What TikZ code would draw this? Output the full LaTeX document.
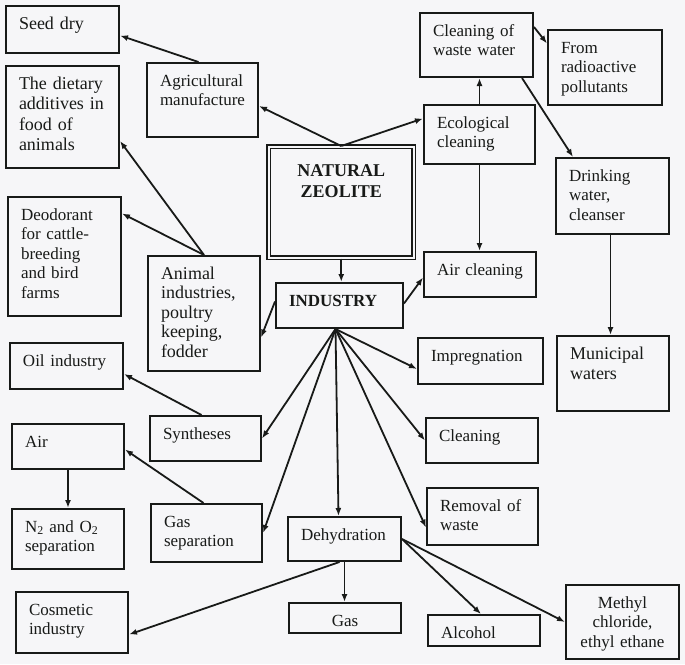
\documentclass[tikz,border=0pt]{standalone}
\usepackage{fontspec}
\setmainfont{Liberation Serif}
\usetikzlibrary{arrows.meta}
\definecolor{ink}{RGB}{24,26,24}
\definecolor{paper}{RGB}{246,246,248}

\begin{document}
\begin{tikzpicture}[x=1pt, y=-1pt,
    blk/.style={draw=ink, line width=2pt, anchor=north west, align=left,
        inner xsep=13pt, inner ysep=0pt, text height=23pt, text=ink,
        font=\fontsize{17}{19.5}\selectfont},
    big/.style={font=\fontsize{18}{20.5}\selectfont},
    arr/.style={draw=ink, line width=1.8pt, -{Latex[length=8pt,width=6pt]}}]
    \fill[paper] (0,0) rectangle (685,664);

    \node[blk, big, text width=87pt, text depth=24pt] (seed) at (5,5) {Seed dry};
    \node[blk, big, text width=87pt, text depth=79pt] (diet) at (5,65) {The dietary\\additives in\\food of\\animals};
    \node[blk, text width=87pt, text depth=96pt] (deo) at (7,196) {Deodorant\\for cattle-\\breeding\\and bird\\farms};
    \node[blk, text width=85pt, text depth=51pt] (agri) at (146,62) {Agricultural\\manufacture};
    \node[blk, text width=86pt, text depth=92pt, font=\fontsize{18}{19.5}\selectfont] (anim) at (147,255) {Animal\\industries,\\poultry\\keeping,\\fodder};

    \node[blk, double=paper, double distance=1.6pt, line width=1.5pt, align=center,
        text width=119pt, text height=30pt, text depth=81pt,
        font=\bfseries\fontsize{18}{21}\selectfont] (nz) at (268,146) {NATURAL\\ZEOLITE};
    \node[blk, text width=101pt, text depth=22pt, font=\bfseries\fontsize{17}{19.5}\selectfont] (ind) at (275,282) {INDUSTRY};

    \node[blk, text width=87pt, text depth=41pt] (cww) at (419,12) {Cleaning of\\waste water};
    \node[blk, text width=88pt, text depth=52pt] (rad) at (547,29) {From\\radioactive\\pollutants};
    \node[blk, text width=85pt, text depth=36pt] (eco) at (423,104) {Ecological\\cleaning};
    \node[blk, text width=87pt, text depth=53pt] (drink) at (555,157) {Drinking\\water,\\cleanser};
    \node[blk, text width=86pt, text depth=22pt] (airc) at (423,251) {Air cleaning};
    \node[blk, text width=99pt, text depth=23pt] (impr) at (417,337) {Impregnation};
    \node[blk, big, text width=86pt, text depth=52pt] (mun) at (556,335) {Municipal\\waters};
    \node[blk, text width=86pt, text depth=22pt] (clean) at (425,417) {Cleaning};
    \node[blk, text width=85pt, text depth=34pt] (rem) at (426,487) {Removal of\\waste};

    \node[blk, text width=87pt, text depth=23pt] (oil) at (9,342) {Oil industry};
    \node[blk, text width=85pt, text depth=22pt] (syn) at (149,415) {Syntheses};
    \node[blk, text width=86pt, text depth=22pt] (air) at (11,423) {Air};
    \node[blk, text width=86pt, text depth=37pt] (nsep) at (11,508) {N\textsubscript{2} and O\textsubscript{2}\\separation};
    \node[blk, text width=85pt, text depth=35pt] (gsep) at (150,503) {Gas\\separation};
    \node[blk, text width=87pt, text depth=21pt] (dehy) at (287,516) {Dehydration};
    \node[blk, text width=86pt, text depth=38pt] (cosm) at (15,591) {Cosmetic\\industry};
    \node[blk, align=center, text width=86pt, text depth=7pt] (gas) at (288,602) {Gas};
    \node[blk, text width=86pt, text depth=8pt] (alc) at (427,614) {Alcohol};
    \node[blk, align=center, text width=87pt, text depth=51pt] (meth) at (565,584) {Methyl\\chloride,\\ethyl ethane};

    \coordinate (fan) at ([xshift=-4pt]ind.south);

    \draw[arr] (nz.north) -- ([yshift=-6pt]agri.east);
    \draw[arr] (nz.north) -- ([yshift=16pt]eco.west);
    \draw[arr] ([xshift=-4pt]agri.north) -- ([yshift=-6pt]seed.east);
    \draw[arr] (anim.north) -- ([yshift=-24pt]diet.east);
    \draw[arr] (anim.north) -- ([yshift=43pt]deo.east);
    \draw[arr] (eco.north) -- (eco.north |- cww.south);
    \draw[arr] ([yshift=-15pt]cww.north east) -- ([yshift=24pt]rad.west);
    \draw[arr] ([xshift=-12pt]cww.south east) -- ([xshift=18pt]drink.north west);
    \draw[arr] (eco.south) -- (eco.south |- airc.north);
    \draw[arr] ([xshift=-2pt]drink.south) -- ([xshift=-2pt]drink.south |- mun.north);
    \draw[arr] (nz.south) -- (nz.south |- ind.north);
    \draw[arr] ([yshift=2pt]ind.east) -- ([yshift=-3pt]airc.west);
    \draw[arr] ([yshift=4pt]ind.west) -- ([yshift=-24pt]anim.east);

    \draw[arr] (fan) -- (syn.east);
    \draw[arr] (fan) -- (gsep.east);
    \draw[arr] (fan) -- ([xshift=-6pt]dehy.north);
    \draw[arr] (fan) -- ([yshift=-8pt]impr.west);
    \draw[arr] (fan) -- (clean.west);
    \draw[arr] (fan) -- ([yshift=-11pt]rem.west);

    \draw[arr] ([xshift=-4pt]syn.north) -- ([yshift=-8pt]oil.east);
    \draw[arr] ([xshift=-3pt]gsep.north) -- ([yshift=-3pt]air.east);
    \draw[arr] (air.south) -- (nsep.north);
    \draw[arr] ([xshift=-5pt]dehy.south) -- ([yshift=-12pt]cosm.east);
    \draw[arr] (dehy.south) -- (dehy.south |- gas.north);
    \draw[arr] (dehy.east) -- ([xshift=-3pt]alc.north);
    \draw[arr] (dehy.east) -- (meth.west);
\end{tikzpicture}
\end{document}
